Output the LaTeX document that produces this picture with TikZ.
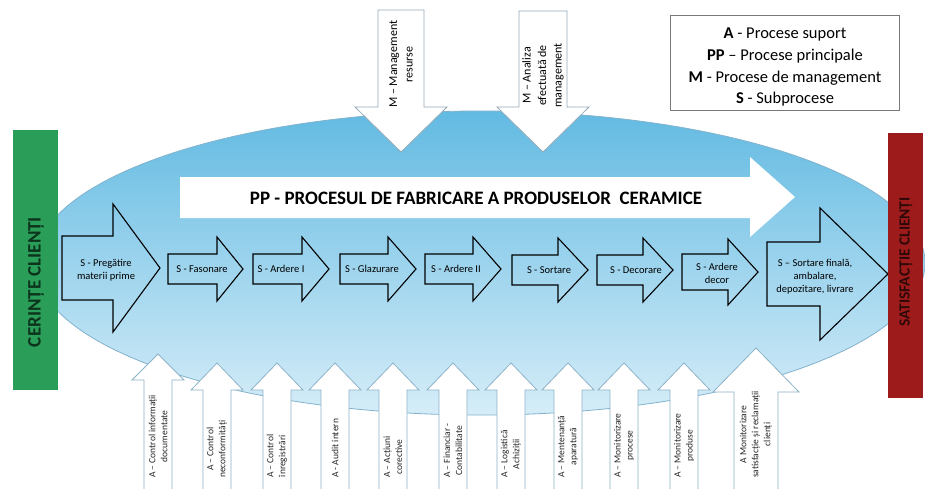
\documentclass[tikz,border=0pt]{standalone}
\usepackage{fontspec}
\setmainfont{Carlito}
\definecolor{ellTop}{RGB}{98,186,226}
\definecolor{ellMid}{RGB}{172,219,240}
\definecolor{ellBot}{RGB}{214,237,248}
\definecolor{ellLine}{RGB}{130,178,205}
\definecolor{greenbar}{RGB}{42,157,88}
\definecolor{redbar}{RGB}{158,27,27}
\definecolor{greentext}{RGB}{12,52,28}
\definecolor{redtext}{RGB}{45,8,8}
\definecolor{aline}{RGB}{140,178,200}
\definecolor{mline}{RGB}{150,170,185}
\definecolor{legline}{RGB}{120,120,120}
\tikzset{
  sarrow/.style={draw=black, line width=1.1pt, line join=miter},
  aarrow/.style={fill=white, draw=aline, line width=0.8pt},
  marrow/.style={fill=white, draw=mline, line width=0.8pt},
  stext/.style={font=\fontsize{10.5}{13}\selectfont, align=center, inner sep=0pt},
  atext/.style={font=\fontsize{9.5}{12}\selectfont, align=center, rotate=90, anchor=west, inner sep=0pt, text=black!85},
  mtext/.style={font=\fontsize{12}{15.5}\selectfont, align=center, rotate=90, anchor=west, inner sep=0pt},
  legtext/.style={font=\fontsize{16.5}{18}\selectfont, inner sep=0pt},
}
% right-pointing block arrow: x0, xhead, xtip, cy, shaft half, head half
\newcommand\srarrow[6]{%
  \draw[sarrow] (#1,#4-#5) -- (#2,#4-#5) -- (#2,#4-#6) -- (#3,#4) -- (#2,#4+#6) -- (#2,#4+#5) -- (#1,#4+#5) -- cycle;}
% up arrow: name, cx, tip y, base y, shaft half, head half, text
\newcommand\uparr[7]{%
  \path[aarrow] (#2-#5,490) -- (#2-#5,#4) -- (#2-#6,#4) -- (#2,#3) -- (#2+#6,#4) -- (#2+#5,#4) -- (#2+#5,490);
  \node[atext] (#1) at (#2,478) {#7};}
% down arrow: name, cx, top y, base y, tip y, shaft half, head half, text
\newcommand\downarr[8]{%
  \path[marrow] (#2-#6,#3) -- (#2-#6,#4) -- (#2-#7,#4) -- (#2,#5) -- (#2+#7,#4) -- (#2+#6,#4) -- (#2+#6,#3) -- cycle;
  \node[mtext] (#1) at (#2,108) {#8};}
\begin{document}
\begin{tikzpicture}[x=1pt,y=-1pt]
\useasboundingbox (0,0) rectangle (925,488);
\fill[white] (0,0) rectangle (925,488);
% ellipse
\shade[top color=ellTop, middle color=ellMid, bottom color=ellBot] (480,263) ellipse [x radius=445, y radius=152];
\draw[ellLine, line width=0.8pt] (480,263) ellipse [x radius=445, y radius=152];
% management arrows
\downarr{m1}{401}{10}{107}{152}{23}{46}{M – Management\\resurse}
\downarr{m2}{543}{11}{107}{152}{24}{46}{M – Analiza\\efectuată de\\management}
% PP arrow
\fill[white] (180,177) -- (750,177) -- (750,157) -- (795,197) -- (750,237) -- (750,218) -- (180,218) -- cycle;
\node[font=\fontsize{19}{22}\selectfont\bfseries, inner sep=0pt] (pp) at (476,198) {PP - PROCESUL DE FABRICARE A PRODUSELOR\ \ CERAMICE};
% subprocess arrows
\srarrow{62}{113}{160}{268}{32}{64}
\node[stext] (s1) at (106,270) {S - Pregătire\\materii prime};
\srarrow{168}{217}{243}{269}{15}{32}
\node[stext] (s2) at (202,269) {S - Fasonare};
\srarrow{253}{302}{329}{269}{15}{32}
\node[stext] (s3) at (281,269) {S - Ardere I};
\srarrow{340}{388}{416}{269}{15}{32}
\node[stext] (s4) at (372,269) {S - Glazurare};
\srarrow{425}{473}{501}{269}{15}{32}
\node[stext] (s5) at (456,269) {S - Ardere II};
\srarrow{512}{558}{588}{270}{15}{32}
\node[stext] (s6) at (549,270) {S - Sortare};
\srarrow{597}{643}{673}{270}{15}{32}
\node[stext] (s7) at (636,270) {S - Decorare};
\srarrow{682}{728}{758}{272}{18}{33}
\node[stext] (s8) at (717,273) {S - Ardere\\decor};
\srarrow{767}{820}{888}{274}{32}{66}
\node[stext] (s9) at (815,277) {S – Sortare finală,\\ambalare,\\depozitare, livrare};
% support arrows
\uparr{a1}{158}{354}{380}{14}{26}{A – Control informații\\documentate}
\uparr{a2}{217}{363}{390}{14}{26}{A – Control\\neconformități}
\uparr{a3}{277}{363}{390}{14}{26}{A – Control\\înregistrări}
\uparr{a4}{335}{363}{390}{14}{26}{A - Audit intern}
\uparr{a5}{393}{363}{390}{14}{26}{A – Acțiuni\\corective}
\uparr{a6}{453}{363}{390}{14}{26}{A – Financiar -\\Contabilitate}
\uparr{a7}{511}{363}{390}{14}{26}{A – Logistică\\Achiziții}
\uparr{a8}{568}{363}{390}{14}{26}{A – Mentenanță\\aparatură}
\uparr{a9}{624}{363}{390}{14}{26}{A – Monitorizare\\procese}
\uparr{a10}{684}{363}{390}{14}{26}{A – Monitorizare\\produse}
\uparr{a11}{756}{348}{392}{22}{43}{A Monitorizare\\satisfacție și reclamații\\clienți}
% side bars
\fill[greenbar] (13,130) rectangle (58,390);
\node[rotate=90, font=\fontsize{19}{22}\selectfont\bfseries, text=greentext, inner sep=0pt] (cer) at (36,282) {CERINȚE CLIENȚI};
\fill[redbar] (888,133) rectangle (923,398);
\node[rotate=90, font=\fontsize{15.5}{18}\selectfont\bfseries, text=redtext, inner sep=0pt] (sat) at (906,262) {SATISFACȚIE CLIENȚI};
% legend
\draw[legline, line width=0.8pt] (670,15) rectangle (899,110);
\node[legtext] (l1) at (785,34) {\textbf{A} - Procese suport};
\node[legtext] (l2) at (785,56) {\textbf{PP} – Procese principale};
\node[legtext] (l3) at (785,78) {\textbf{M} - Procese de management};
\node[legtext] (l4) at (785,99) {\textbf{S} - Subprocese};
\end{tikzpicture}
\end{document}
